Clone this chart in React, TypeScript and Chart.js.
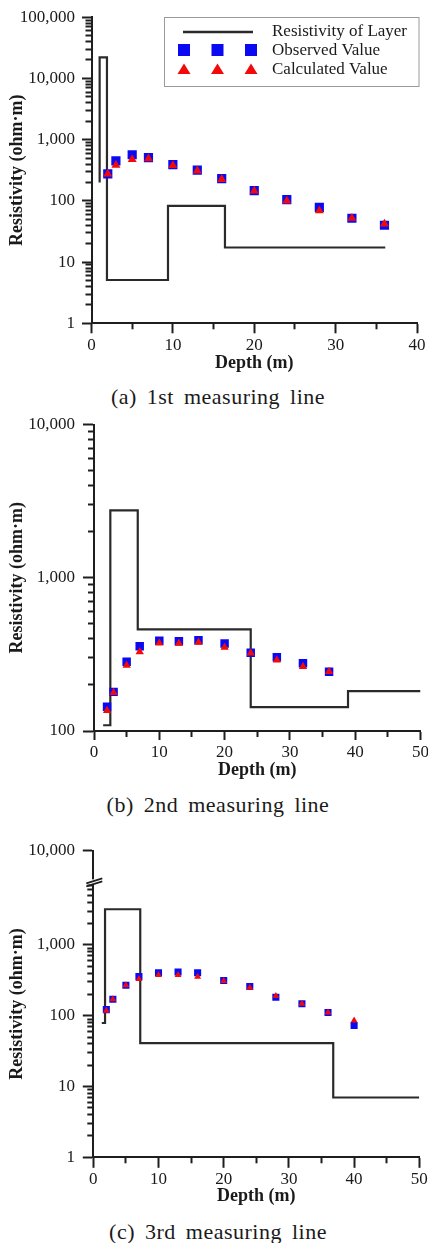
import React, { useEffect, useRef } from 'react';
import { Chart, registerables } from 'chart.js';

Chart.register(...registerables);

// ---------- data ----------
const depths12 = [2, 3, 5, 7, 10, 13, 16, 20, 24, 28, 32, 36];
const depths3 = [2, 3, 5, 7, 10, 13, 16, 20, 24, 28, 32, 36, 40];

const observed1 = [276, 450, 566, 510, 392, 318, 230, 147, 105, 78, 52, 40];
const calculated1 = [276, 383, 475, 490, 380, 310, 225, 145, 100, 69, 52, 42];
const layerDepth1 = [1.0, 1.9, 9.4, 16.4, 36.1];
const layerRho1 = [200, 22000, 5.1, 83, 17.3];

const observed2 = [144, 180, 283, 357, 388, 385, 391, 373, 324, 303, 277, 244];
const calculated2 = [136, 178, 268, 329, 375, 373, 379, 352, 322, 290, 263, 244];
const layerDepth2 = [1.4, 2.5, 6.7, 24.0, 38.9, 50];
const layerRho2 = [109, 109, 2750, 461, 143, 182];

const observed3 = [122, 171, 270, 357, 406, 415, 406, 315, 259, 183, 148, 111, 73];
const calculated3 = [118, 171, 270, 330, 377, 377, 356, 310, 248, 190, 148, 111, 86];
const layerDepth3 = [1.3, 1.8, 7.2, 36.8, 50];
const layerRho3 = [79, 79, 3200, 41, 7.0];

const xMax1 = 40;
const xMax23 = 50;
const xMinorTicks1 = [5, 15, 25, 35];
const xMinorTicks23 = [5, 15, 25, 35, 45];
const yTicks1 = [1, 10, 100, 1000, 10000, 100000];
const yTickLabels1 = ['1', '10', '100', '1,000', '10,000', '100,000'];
const yTicks2 = [100, 1000, 10000];
const yTickLabels2 = ['100', '1,000', '10,000'];
const yTicks3 = [1, 10, 100, 1000, 21500];
const yTickLabels3 = ['1', '10', '100', '1,000', '10,000'];
const yBreak3 = 7800;

const legendLabels = ['Resistivity of Layer', 'Observed Value', 'Calculated Value'];
const captions = ['(a) 1st measuring line', '(b) 2nd measuring line', '(c) 3rd measuring line'];
const xTitle = 'Depth (m)';
const yTitle = 'Resistivity (ohm·m)';

// ---------- styles ----------
const SERIF = '"Liberation Serif", "Times New Roman", serif';
const AXIS = '#1e1e1e';
const TEXT = '#1a1a1a';
const BLUE = '#0a0af2';
const RED = '#f20a0a';
const LAYER = '#2a2a2a';
const CANVAS_W = 440;

type Spec = {
  top: number;
  height: number;
  left: number;
  areaTop: number;
  right: number;
  bottom: number;
  xMax: number;
  xMinor: number[];
  yTicks: number[];
  yLabels: string[];
  depths: number[];
  observed: number[];
  calculated: number[];
  layerDepth: number[];
  layerRho: number[];
  yTickLen: number;
  xTickLen: number;
  yPad: number;
  xTitleCenter: number;
  sq: number;
  tri: number;
  breakAt?: number;
  legend?: boolean;
  caption: string;
  captionCenter: number;
};

const specs: Spec[] = [
  {
    top: 0, height: 380, left: 91.5, areaTop: 16, right: 417, bottom: 323.3,
    xMax: xMax1, xMinor: xMinorTicks1, yTicks: yTicks1, yLabels: yTickLabels1,
    depths: depths12, observed: observed1, calculated: calculated1,
    layerDepth: layerDepth1, layerRho: layerRho1,
    yTickLen: 9.5, xTickLen: 10, yPad: 16.5, xTitleCenter: 363,
    sq: 6.5, tri: 5.2, legend: true, caption: captions[0], captionCenter: 397,
  },
  {
    top: 400, height: 388, left: 94, areaTop: 424.5, right: 420.5, bottom: 731,
    xMax: xMax23, xMinor: xMinorTicks23, yTicks: yTicks2, yLabels: yTickLabels2,
    depths: depths12, observed: observed2, calculated: calculated2,
    layerDepth: layerDepth2, layerRho: layerRho2,
    yTickLen: 11, xTickLen: 9, yPad: 19, xTitleCenter: 770,
    sq: 6, tri: 4.8, caption: captions[1], captionCenter: 805,
  },
  {
    top: 826, height: 390, left: 93.3, areaTop: 850.7, right: 419.3, bottom: 1157.3,
    xMax: xMax23, xMinor: xMinorTicks23, yTicks: yTicks3, yLabels: yTickLabels3,
    depths: depths3, observed: observed3, calculated: calculated3,
    layerDepth: layerDepth3, layerRho: layerRho3,
    yTickLen: 10.5, xTickLen: 10.5, yPad: 18.3, xTitleCenter: 1196.7,
    sq: 5, tri: 4, breakAt: yBreak3, caption: captions[2], captionCenter: 1231.7,
  },
];

function minorLogValues(min: number, max: number, cut?: number): number[] {
  const out: number[] = [];
  const lo = Math.floor(Math.log10(min));
  const hi = Math.ceil(Math.log10(max));
  for (let d = lo; d <= hi; d++) {
    for (let k = 2; k <= 9; k++) {
      const v = k * Math.pow(10, d);
      if (v <= min || v >= max) continue;
      if (cut !== undefined && v >= cut) continue;
      out.push(v);
    }
  }
  return out;
}

function decorPlugin(spec: Spec) {
  return {
    id: 'decor',
    afterDraw(chart: any) {
      const ctx = chart.ctx as CanvasRenderingContext2D;
      const left = chart.chartArea.left;
      const ys = chart.scales.y;
      ctx.save();
      if (spec.breakAt) {
        const py = ys.getPixelForValue(spec.breakAt);
        ctx.fillStyle = '#ffffff';
        ctx.fillRect(left - 3, py - 2.5, 6, 4.5);
        ctx.strokeStyle = AXIS;
        ctx.lineWidth = 1.6;
        ctx.beginPath();
        ctx.moveTo(left - 7, py + 1.5);
        ctx.lineTo(left + 9, py - 3.5);
        ctx.moveTo(left - 7, py + 4.5);
        ctx.lineTo(left + 9, py - 0.5);
        ctx.stroke();
      }
      if (spec.legend) {
        ctx.fillStyle = '#ffffff';
        ctx.fillRect(164.5, 17.5, 254.5, 69);
        ctx.strokeStyle = '#9a9a9a';
        ctx.lineWidth = 1;
        ctx.strokeRect(164.5, 17.5, 254.5, 69);
        ctx.strokeStyle = LAYER;
        ctx.lineWidth = 2.5;
        ctx.beginPath();
        ctx.moveTo(183, 32);
        ctx.lineTo(253, 32);
        ctx.stroke();
        const mx = [184, 217.5, 251];
        ctx.fillStyle = BLUE;
        mx.forEach((x) => ctx.fillRect(x - 6, 44, 12, 12));
        ctx.fillStyle = RED;
        mx.forEach((x) => {
          ctx.beginPath();
          ctx.moveTo(x, 63.5);
          ctx.lineTo(x + 6.5, 74);
          ctx.lineTo(x - 6.5, 74);
          ctx.closePath();
          ctx.fill();
        });
        ctx.fillStyle = TEXT;
        ctx.font = `17px ${SERIF}`;
        ctx.textBaseline = 'middle';
        ctx.textAlign = 'left';
        ctx.fillText(legendLabels[0], 272, 32);
        ctx.fillText(legendLabels[1], 272, 51);
        ctx.fillText(legendLabels[2], 272, 70);
      }
      ctx.restore();
    },
  };
}

function buildConfig(spec: Spec): any {
  const h = spec.height;
  const xAxisH = spec.top + h - spec.bottom;
  const titleLH = 18 * 1.2;
  const yMin = spec.yTicks[0];
  const yMax = spec.yTicks[spec.yTicks.length - 1];
  const yMinorVals = minorLogValues(yMin, yMax, spec.breakAt);
  const minorGrid = {
    display: true,
    drawOnChartArea: false,
    drawTicks: true,
    tickLength: 6,
    tickWidth: 2,
    tickColor: AXIS,
    color: AXIS,
  };
  return {
    type: 'scatter',
    data: {
      datasets: [
        {
          label: legendLabels[0],
          data: spec.layerDepth.map((d, i) => ({ x: d, y: spec.layerRho[i] })),
          showLine: true,
          stepped: 'after',
          borderColor: LAYER,
          borderWidth: 2.2,
          pointRadius: 0,
          fill: false,
          order: 3,
          xAxisID: 'x',
          yAxisID: 'y',
        },
        {
          label: legendLabels[1],
          data: spec.depths.map((d, i) => ({ x: d, y: spec.observed[i] })),
          pointStyle: 'rect',
          pointRadius: spec.sq,
          backgroundColor: BLUE,
          borderColor: BLUE,
          borderWidth: 0,
          order: 2,
          xAxisID: 'x',
          yAxisID: 'y',
        },
        {
          label: legendLabels[2],
          data: spec.depths.map((d, i) => ({ x: d, y: spec.calculated[i] })),
          pointStyle: 'triangle',
          pointRadius: spec.tri,
          backgroundColor: RED,
          borderColor: RED,
          borderWidth: 0,
          order: 1,
          xAxisID: 'x',
          yAxisID: 'y',
        },
      ],
    },
    options: {
      responsive: false,
      animation: false,
      events: [],
      devicePixelRatio: 1,
      layout: {
        padding: {
          left: 0,
          top: spec.areaTop - spec.top,
          right: CANVAS_W - spec.right,
          bottom: 0,
        },
      },
      plugins: {
        legend: { display: false },
        tooltip: { enabled: false },
      },
      scales: {
        x: {
          type: 'linear',
          position: 'bottom',
          weight: 1,
          min: 0,
          max: spec.xMax,
          afterFit: (s: any) => {
            s.height = xAxisH;
          },
          ticks: {
            stepSize: 10,
            color: TEXT,
            padding: 2,
            font: { family: SERIF, size: 17 },
            maxRotation: 0,
          },
          grid: {
            display: true,
            drawOnChartArea: false,
            drawTicks: true,
            tickLength: spec.xTickLen,
            tickWidth: 2,
            tickColor: AXIS,
            color: AXIS,
          },
          border: { display: true, color: AXIS, width: 2 },
          title: {
            display: true,
            text: xTitle,
            color: TEXT,
            font: { family: SERIF, size: 18, weight: 'bold' },
            padding: { top: 0, bottom: spec.top + h - spec.xTitleCenter - titleLH / 2 },
          },
        },
        xMinor: {
          type: 'linear',
          position: 'bottom',
          weight: 0,
          min: 0,
          max: spec.xMax,
          afterFit: (s: any) => {
            s.height = 0;
          },
          afterBuildTicks: (s: any) => {
            s.ticks = spec.xMinor.map((v) => ({ value: v }));
          },
          ticks: { display: false, autoSkip: false },
          grid: minorGrid,
          border: { display: false },
        },
        y: {
          type: 'logarithmic',
          position: 'left',
          weight: 1,
          min: yMin,
          max: yMax,
          afterFit: (s: any) => {
            s.width = spec.left;
          },
          afterBuildTicks: (s: any) => {
            s.ticks = spec.yTicks.map((v) => ({ value: v }));
          },
          ticks: {
            autoSkip: false,
            color: TEXT,
            padding: spec.yPad - spec.yTickLen,
            font: { family: SERIF, size: 17 },
            callback: (_v: any, i: number) => spec.yLabels[i],
          },
          grid: {
            display: true,
            drawOnChartArea: false,
            drawTicks: true,
            tickLength: spec.yTickLen,
            tickWidth: 2,
            tickColor: AXIS,
            color: AXIS,
          },
          border: { display: true, color: AXIS, width: 2 },
          title: {
            display: true,
            text: yTitle,
            color: TEXT,
            font: { family: SERIF, size: 18, weight: 'bold' },
            padding: { top: 17 - titleLH / 2, bottom: 0 },
          },
        },
        yMinor: {
          type: 'logarithmic',
          position: 'left',
          weight: 0,
          min: yMin,
          max: yMax,
          afterFit: (s: any) => {
            s.width = 0;
          },
          afterBuildTicks: (s: any) => {
            s.ticks = yMinorVals.map((v) => ({ value: v }));
          },
          ticks: { display: false, autoSkip: false },
          grid: minorGrid,
          border: { display: false },
        },
      },
    },
    plugins: [decorPlugin(spec)],
  };
}

function ChartBlock({ spec }: { spec: Spec }) {
  const ref = useRef<HTMLCanvasElement | null>(null);
  useEffect(() => {
    if (!ref.current) return;
    const chart = new Chart(ref.current, buildConfig(spec));
    return () => chart.destroy();
  }, [spec]);
  return (
    <>
      <canvas
        ref={ref}
        width={CANVAS_W}
        height={spec.height}
        style={{ position: 'absolute', left: 0, top: spec.top, width: CANVAS_W, height: spec.height, display: 'block' }}
      />
      <div
        style={{
          position: 'absolute',
          left: 4,
          top: spec.captionCenter - 14,
          width: 428,
          height: 28,
          lineHeight: '28px',
          textAlign: 'center',
          fontFamily: SERIF,
          fontSize: 22,
          letterSpacing: '0.5px',
          wordSpacing: '4px',
          color: TEXT,
          whiteSpace: 'nowrap',
        }}
      >
        {spec.caption}
      </div>
    </>
  );
}

export default function App() {
  return (
    <div
      style={{
        position: 'absolute',
        left: 0,
        top: 0,
        width: 428,
        height: 1243,
        overflow: 'hidden',
        background: '#ffffff',
      }}
    >
      {specs.map((s, i) => (
        <ChartBlock key={i} spec={s} />
      ))}
    </div>
  );
}
